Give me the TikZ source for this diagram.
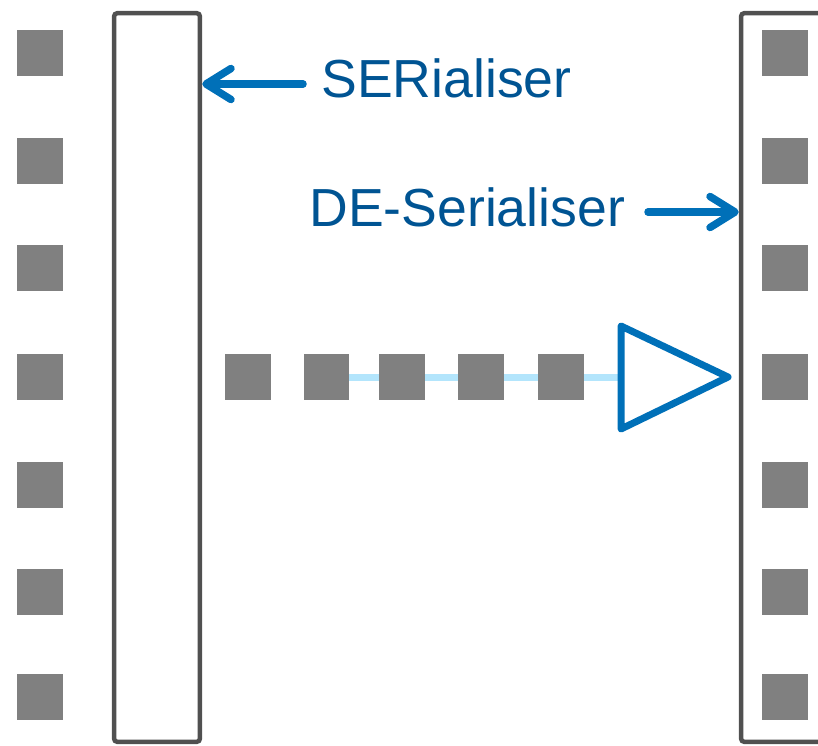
\documentclass[tikz,border=0pt]{standalone}
\usepackage{fontspec}
\setmainfont{Liberation Sans}
\usepackage{tikz}
\usetikzlibrary{arrows.meta,positioning,backgrounds}
\definecolor{slgray}{RGB}{128,128,128}
\definecolor{slframe}{RGB}{80,80,80}
\definecolor{slblue}{RGB}{0,112,184}
\definecolor{sltext}{RGB}{0,84,147}
\definecolor{sllight}{RGB}{179,229,252}

\begin{document}
\begin{tikzpicture}[x=0.02cm, y=-0.02cm,
  bit/.style={fill=slgray, minimum size=0.92cm, inner sep=0pt},
  regbox/.style={draw=slframe, line width=0.09cm, rounded corners=2pt,
    minimum width=1.72cm, minimum height=14.58cm, inner sep=0pt},
  lbl/.style={text=sltext, font=\fontsize{30.5}{36}\selectfont, inner sep=0pt},
  arr/.style={-{Straight Barb[length=0.5cm, width=0.62cm, round]},
    draw=slblue, line width=0.15cm, line cap=round},
  feed/.style={draw=sllight, line width=0.14cm},
  amp/.style={draw=slblue, line width=0.14cm, line join=round}]
\clip (0,0) rectangle (818,745);
% Registers
\node[regbox] (ser) at (157,377.5) {};
\node[regbox, minimum width=2.4cm] (des) at (801,377.5) {};
% Parallel bits on both sides
\foreach \y [count=\i] in {53,160.5,268,377,484.5,592,697} {
  \node[bit] (l\i) at (40,\y) {};
  \node[bit] (r\i) at (785,\y) {};
}
% Serial stream
\node[bit] (m1) at (248,377) {};
\node[bit] (m2) at (326.5,377) {};
\node[bit] (m3) at (402,377) {};
\node[bit] (m4) at (481,377) {};
\node[bit] (m5) at (561,377) {};
% Driver
\coordinate (ampin) at (621,377);
\draw[amp] (621,326) -- (728,377) -- (621,429) -- cycle;
\begin{scope}[on background layer]
\draw[feed] (m2.center) -- (ampin);
\end{scope}
% Labels
\node[lbl, anchor=base west] (sertext) at (321,97) {SERialiser};
\node[lbl, anchor=base west] (destext) at (309,226) {DE-Serialiser};
\coordinate (serfrom) at (303,84);
\coordinate (desfrom) at (648,212);
\draw[arr] (serfrom) -- (serfrom -| ser.east);
\draw[arr] (desfrom) -- (desfrom -| des.west);
\end{tikzpicture}
\end{document}
